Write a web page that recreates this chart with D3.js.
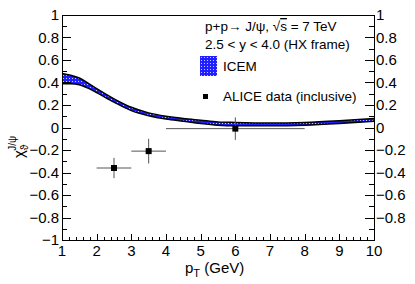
<!DOCTYPE html>
<html>
<head>
<meta charset="utf-8">
<script src="https://cdn.jsdelivr.net/npm/d3@7/dist/d3.min.js"></script>
<style>
  html, body { margin: 0; padding: 0; background: #fff; }
  svg { display: block; font-family: "Liberation Sans", Arial, Helvetica, sans-serif; }
</style>
</head>
<body>
<div id="chart"></div>
<script>
// ICEM band (upper / lower edge) vs pT
const ptKnots   = [1, 1.25, 1.5, 1.75, 2, 2.5, 3, 3.5, 4, 4.5, 5, 5.5, 6, 7, 8, 9, 10];
const icemUpper = [0.48, 0.465, 0.44, 0.395, 0.345, 0.255, 0.18, 0.13, 0.10, 0.08, 0.065, 0.05, 0.045, 0.04, 0.045, 0.06, 0.08];
const icemLower = [0.39, 0.39, 0.38, 0.35, 0.31, 0.225, 0.15, 0.105, 0.075, 0.055, 0.035, 0.02, 0.015, 0.015, 0.02, 0.035, 0.055];

// ALICE inclusive points
const aliceX    = [2.5, 3.5, 6];
const aliceXErr = [0.5, 0.5, 2];
const aliceY    = [-0.36, -0.21, -0.01];
const aliceYErr = [0.09, 0.11, 0.10];

const xTicks = [1, 2, 3, 4, 5, 6, 7, 8, 9, 10];
const yTicksLeft  = [-1, -0.8, -0.6, -0.4, -0.2, 0, 0.2, 0.4, 0.6, 0.8, 1];
const yTicksRight = [-0.8, -0.6, -0.4, -0.2, 0, 0.2, 0.4, 0.6, 0.8, 1];

const W = 415, H = 284;
const plotL = 62, plotR = 374, plotT = 15, plotB = 240;

const svg = d3.select("#chart").append("svg")
  .attr("width", W).attr("height", H);

const x = d3.scaleLinear().domain([1, 10]).range([plotL, plotR]);
const y = d3.scaleLinear().domain([-1, 1]).range([plotB, plotT]);

// hatch pattern for the band
const defs = svg.append("defs");
const pat = defs.append("pattern")
  .attr("id", "icemHatch")
  .attr("patternUnits", "userSpaceOnUse")
  .attr("width", 3).attr("height", 3);
pat.append("rect").attr("width", 3).attr("height", 3).attr("fill", "#1f1fff");
pat.append("rect").attr("x", 0).attr("y", 0).attr("width", 1).attr("height", 1).attr("fill", "#c8c8ff");

const fmt = (v) => {
  if (v === 0) return "0";
  const s = Math.abs(v) === 1 ? "1" : String(Math.abs(v));
  return (v < 0 ? "\u2212" : "") + s;
};

// band
const pts = ptKnots.map((p, i) => ({ p, u: icemUpper[i], l: icemLower[i] }));
const curve = d3.curveMonotoneX;
svg.append("path")
  .datum(pts)
  .attr("fill", "url(#icemHatch)")
  .attr("d", d3.area().curve(curve).x((d) => x(d.p)).y0((d) => y(d.l)).y1((d) => y(d.u)));
["u", "l"].forEach((k) => {
  svg.append("path")
    .datum(pts)
    .attr("fill", "none")
    .attr("stroke", "#000")
    .attr("stroke-width", 1.5)
    .attr("d", d3.line().curve(curve).x((d) => x(d.p)).y((d) => y(d[k])));
});

// axes
const axisG = svg.append("g").attr("stroke", "#000").attr("stroke-width", 1).attr("shape-rendering", "crispEdges");
axisG.append("rect")
  .attr("x", plotL).attr("y", plotT)
  .attr("width", plotR - plotL).attr("height", plotB - plotT)
  .attr("fill", "none");

// y ticks (left + right, inward)
d3.range(-1, 1.0001, 0.1).forEach((v) => {
  const major = Math.abs(Math.round(v * 10) % 2) === 0;
  const len = major ? 9 : 5;
  const yy = Math.round(y(v)) + 0.5;
  axisG.append("line").attr("x1", plotL).attr("x2", plotL + len).attr("y1", yy).attr("y2", yy);
  axisG.append("line").attr("x1", plotR).attr("x2", plotR - len).attr("y1", yy).attr("y2", yy);
});
// x ticks (bottom, inward)
d3.range(1, 10.0001, 0.2).forEach((v) => {
  const major = Math.abs(v - Math.round(v)) < 1e-6;
  const len = major ? 6 : 3;
  const xx = Math.round(x(v)) + 0.5;
  axisG.append("line").attr("x1", xx).attr("x2", xx).attr("y1", plotB).attr("y2", plotB - len);
});

const labelSize = 15;
svg.append("g").selectAll("text")
  .data(yTicksLeft).join("text")
  .attr("x", plotL - 3).attr("y", (d) => y(d))
  .attr("dy", "0.36em")
  .attr("text-anchor", "end")
  .attr("font-size", labelSize)
  .text(fmt);
svg.append("g").selectAll("text")
  .data(yTicksRight).join("text")
  .attr("x", plotR + 2).attr("y", (d) => y(d))
  .attr("dy", "0.36em")
  .attr("text-anchor", "start")
  .attr("font-size", labelSize)
  .text(fmt);
svg.append("g").selectAll("text")
  .data(xTicks).join("text")
  .attr("x", (d) => x(d)).attr("y", 256)
  .attr("text-anchor", "middle")
  .attr("font-size", labelSize)
  .text((d) => String(d));

// axis titles
const xt = svg.append("text").attr("x", 185).attr("y", 273).attr("font-size", 15);
xt.append("tspan").text("p");
xt.append("tspan").attr("font-size", 11).attr("dy", 4).text("T");
xt.append("tspan").attr("dy", -4).text(" (GeV)");

const yt = svg.append("text")
  .attr("transform", "translate(24,158) rotate(-90)")
  .attr("font-size", 15);
yt.append("tspan").text("\u03c7");
yt.append("tspan").attr("font-size", 10).attr("dy", 4).text("\u03d1");
yt.append("tspan").attr("font-size", 10).attr("dx", -6).attr("dy", -12).text("J/\u03c8");

// ALICE data
const dataG = svg.append("g");
aliceX.forEach((px, i) => {
  const cx = x(px), cy = y(aliceY[i]);
  dataG.append("line")
    .attr("x1", x(px - aliceXErr[i])).attr("x2", x(px + aliceXErr[i]))
    .attr("y1", cy).attr("y2", cy)
    .attr("stroke", "#555").attr("stroke-width", 1);
  dataG.append("line")
    .attr("x1", cx).attr("x2", cx)
    .attr("y1", y(aliceY[i] + aliceYErr[i])).attr("y2", y(aliceY[i] - aliceYErr[i]))
    .attr("stroke", "#555").attr("stroke-width", 1);
  dataG.append("rect")
    .attr("x", cx - 3).attr("y", cy - 3)
    .attr("width", 6).attr("height", 6)
    .attr("fill", "#000");
});

// legend
const lg = svg.append("g").attr("font-size", 13.5);
const l1 = lg.append("text").attr("x", 205).attr("y", 31);
l1.append("tspan").text("p+p\u2192 J/\u03c8, \u221a");
l1.append("tspan").style("text-decoration", "overline").text("s");
l1.append("tspan").text(" = 7 TeV");
lg.append("text").attr("x", 205).attr("y", 49).text("2.5 < y < 4.0 (HX frame)");
lg.append("rect")
  .attr("x", 200).attr("y", 56).attr("width", 17).attr("height", 20)
  .attr("fill", "url(#icemHatch)");
lg.append("text").attr("x", 223).attr("y", 71).text("ICEM");
lg.append("rect")
  .attr("x", 203).attr("y", 94).attr("width", 5).attr("height", 5)
  .attr("fill", "#000");
lg.append("text").attr("x", 223).attr("y", 101).text("ALICE data (inclusive)");
</script>
</body>
</html>
